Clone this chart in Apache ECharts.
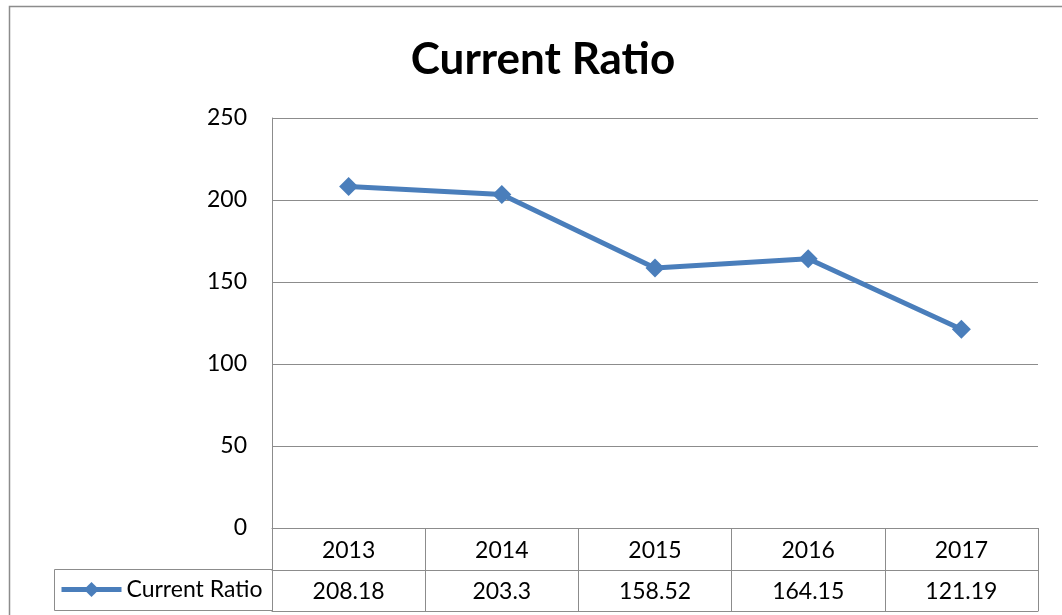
<!DOCTYPE html>
<html>
<head>
<meta charset="utf-8">
<script src="https://cdn.jsdelivr.net/npm/echarts@6/dist/echarts.min.js"></script>
<style>
  html, body { margin: 0; padding: 0; background: #fff; }
  #chart { width: 1062px; height: 615px; }
</style>
</head>
<body>
<div id="chart"></div>
<script>
  // 数据
  var years = ['2013', '2014', '2015', '2016', '2017'];
  var ratioValues = [208.18, 203.3, 158.52, 164.15, 121.19];
  var seriesName = 'Current Ratio';

  var font = 'Lato, "Noto Sans", sans-serif';
  var blue = '#4A7EBB';
  var gridGray = '#8c8c8c';
  var labelSize = 23;

  var chart = echarts.init(document.getElementById('chart'));

  var option = {
    backgroundColor: '#fff',
    animation: false,
    textStyle: { fontFamily: font, color: '#000' },
    title: {
      text: 'Current Ratio',
      left: 538,
      textAlign: 'center',
      top: 33,
      textStyle: { fontSize: 44, fontWeight: 'bold', color: '#000', fontFamily: font }
    },
    legend: {
      left: 59,
      top: 578,
      padding: 0,
      itemWidth: 60,
      itemHeight: 19,
      itemGap: 2,
      lineStyle: { width: 5, color: blue },
      textStyle: { fontSize: labelSize, color: '#000', fontFamily: font },
      data: [{ name: seriesName }]
    },
    grid: { left: 272, right: 24, top: 118, bottom: 87, containLabel: false },
    xAxis: [
      {
        // 表头 年份
        type: 'category',
        data: years,
        boundaryGap: true,
        axisLine: { show: true, lineStyle: { color: gridGray, width: 1 } },
        axisTick: { show: true, length: 42, lineStyle: { color: gridGray } },
        axisLabel: { fontSize: labelSize, color: '#000', margin: 11, fontFamily: font },
        splitLine: { show: false }
      },
      {
        // 数值行
        type: 'category',
        data: years,
        position: 'bottom',
        offset: 42,
        boundaryGap: true,
        axisLine: { show: true, lineStyle: { color: gridGray, width: 1 } },
        axisTick: { show: true, length: 41, lineStyle: { color: gridGray } },
        axisLabel: {
          fontSize: labelSize, color: '#000', margin: 10, fontFamily: font,
          formatter: function (v, i) { return String(ratioValues[i]); }
        },
        splitLine: { show: false }
      },
      {
        // 表格底线
        type: 'category',
        data: years,
        position: 'bottom',
        offset: 83,
        axisLine: { show: true, lineStyle: { color: gridGray, width: 1 } },
        axisTick: { show: false },
        axisLabel: { show: false }
      }
    ],
    yAxis: {
      type: 'value',
      min: 0,
      max: 250,
      interval: 50,
      axisLine: { show: true, lineStyle: { color: gridGray, width: 1 } },
      axisTick: { show: false },
      axisLabel: { fontSize: labelSize, color: '#000', margin: 25, fontFamily: font },
      splitLine: { show: true, lineStyle: { color: gridGray, width: 1 } }
    },
    graphic: [
      // 外框
      { type: 'rect', shape: { x: 9.5, y: 6.5, width: 1070, height: 620 },
        style: { fill: 'none', stroke: '#8c8c8c', lineWidth: 1.5 }, silent: true },
      // 图例单元格
      { type: 'polyline', shape: { points: [[272, 569.5], [54.5, 569.5], [54.5, 610.5], [272, 610.5]] },
        style: { fill: 'none', stroke: gridGray, lineWidth: 1 }, silent: true }
    ],
    series: [
      {
        name: seriesName,
        type: 'line',
        data: ratioValues,
        symbol: 'diamond',
        symbolSize: 19,
        lineStyle: { color: blue, width: 5 },
        itemStyle: { color: blue },
        emphasis: { disabled: true }
      }
    ]
  };

  chart.setOption(option);
</script>
</body>
</html>
